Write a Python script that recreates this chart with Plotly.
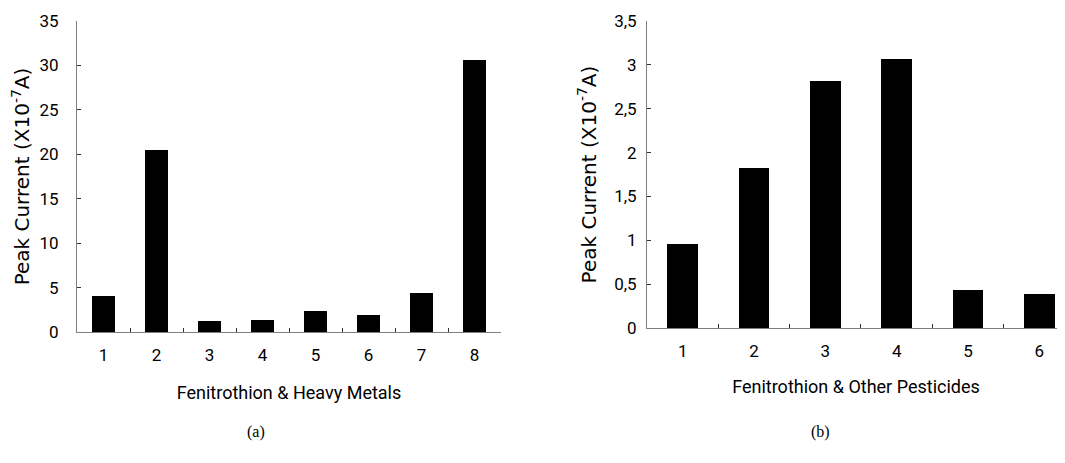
import plotly.graph_objects as go

# Data
cats_a = ["1", "2", "3", "4", "5", "6", "7", "8"]
vals_a = [4.1, 20.5, 1.2, 1.35, 2.35, 1.9, 4.35, 30.6]
cats_b = ["1", "2", "3", "4", "5", "6"]
vals_b = [0.96, 1.82, 2.82, 3.07, 0.43, 0.39]
yticks_a = [0, 5, 10, 15, 20, 25, 30, 35]
yticks_b = [0, 0.5, 1, 1.5, 2, 2.5, 3, 3.5]
yticklabels_b = ["0", "0,5", "1", "1,5", "2", "2,5", "3", "3,5"]
ytitle = "Peak Current (X10<sup>-7</sup>A)"
xtitle_a = "Fenitrothion & Heavy Metals"
xtitle_b = "Fenitrothion & Other Pesticides"
panel_labels = ["(a)", "(b)"]

# the page body adds an 8px offset, so the figure is laid out 8px up/left
OFF = 8
W, H = 1065 - OFF, 463 - OFF
narrow = "Roboto"
wide = "DejaVu Sans"
serif = "Liberation Serif"
axcol = "#808080"

fig = go.Figure()
fig.add_trace(go.Bar(x=cats_a, y=vals_a, marker=dict(color="black", line=dict(width=0)),
                     width=0.42, xaxis="x", yaxis="y", showlegend=False))
fig.add_trace(go.Bar(x=cats_b, y=vals_b, marker=dict(color="black", line=dict(width=0)),
                     width=0.43, xaxis="x2", yaxis="y2", showlegend=False))

def px_x(p):
    return (p - OFF) / W

def px_y(p):
    return 1 - (p - OFF) / H

common_x = dict(type="category", showline=True, linecolor=axcol, linewidth=1,
                ticks="inside", ticklen=4, tickcolor="#333", tickson="boundaries",
                showgrid=False, zeroline=False, automargin=False,
                tickfont=dict(family=narrow, size=17, color="black"),
                ticklabelstandoff=8)
common_y = dict(showline=True, linecolor=axcol, linewidth=1,
                ticks="inside", ticklen=4, tickcolor="#333",
                showgrid=False, zeroline=False, automargin=False,
                tickfont=dict(family=narrow, size=17, color="black"))

fig.update_layout(
    template="none",
    width=W, height=H,
    margin=dict(l=0, r=0, t=0, b=0, pad=0, autoexpand=False),
    paper_bgcolor="white", plot_bgcolor="white",
    bargap=0,
    xaxis=dict(domain=[px_x(77), px_x(501)], range=[-0.5, 7.5], anchor="y",
               title=dict(text=xtitle_a, font=dict(family=narrow, size=18, color="black"), standoff=21),
               **common_x),
    yaxis=dict(domain=[px_y(332), px_y(21)], range=[0, 35], tickvals=yticks_a, anchor="x",
               ticklabelstandoff=14,
               title=dict(text=ytitle, font=dict(family=wide, size=20, color="black"), standoff=12),
               **common_y),
    xaxis2=dict(domain=[px_x(647), 1], range=[-0.5, 5.36], anchor="y2",
                title=dict(text=xtitle_b, font=dict(family=narrow, size=18, color="black"), standoff=19),
                **common_x),
    yaxis2=dict(domain=[px_y(328), px_y(21)], range=[0, 3.5], tickvals=yticks_b,
                ticktext=yticklabels_b, anchor="x2", ticklabelstandoff=6,
                title=dict(text=ytitle, font=dict(family=wide, size=20, color="black"), standoff=12),
                **common_y),
    annotations=[
        dict(text=panel_labels[0], x=px_x(256), y=px_y(432), xref="paper", yref="paper",
             xanchor="center", yanchor="middle",
             showarrow=False, font=dict(family=serif, size=16, color="black")),
        dict(text=panel_labels[1], x=px_x(820), y=px_y(432), xref="paper", yref="paper",
             xanchor="center", yanchor="middle",
             showarrow=False, font=dict(family=serif, size=16, color="black")),
    ],
)

fig.write_html("out.html")
